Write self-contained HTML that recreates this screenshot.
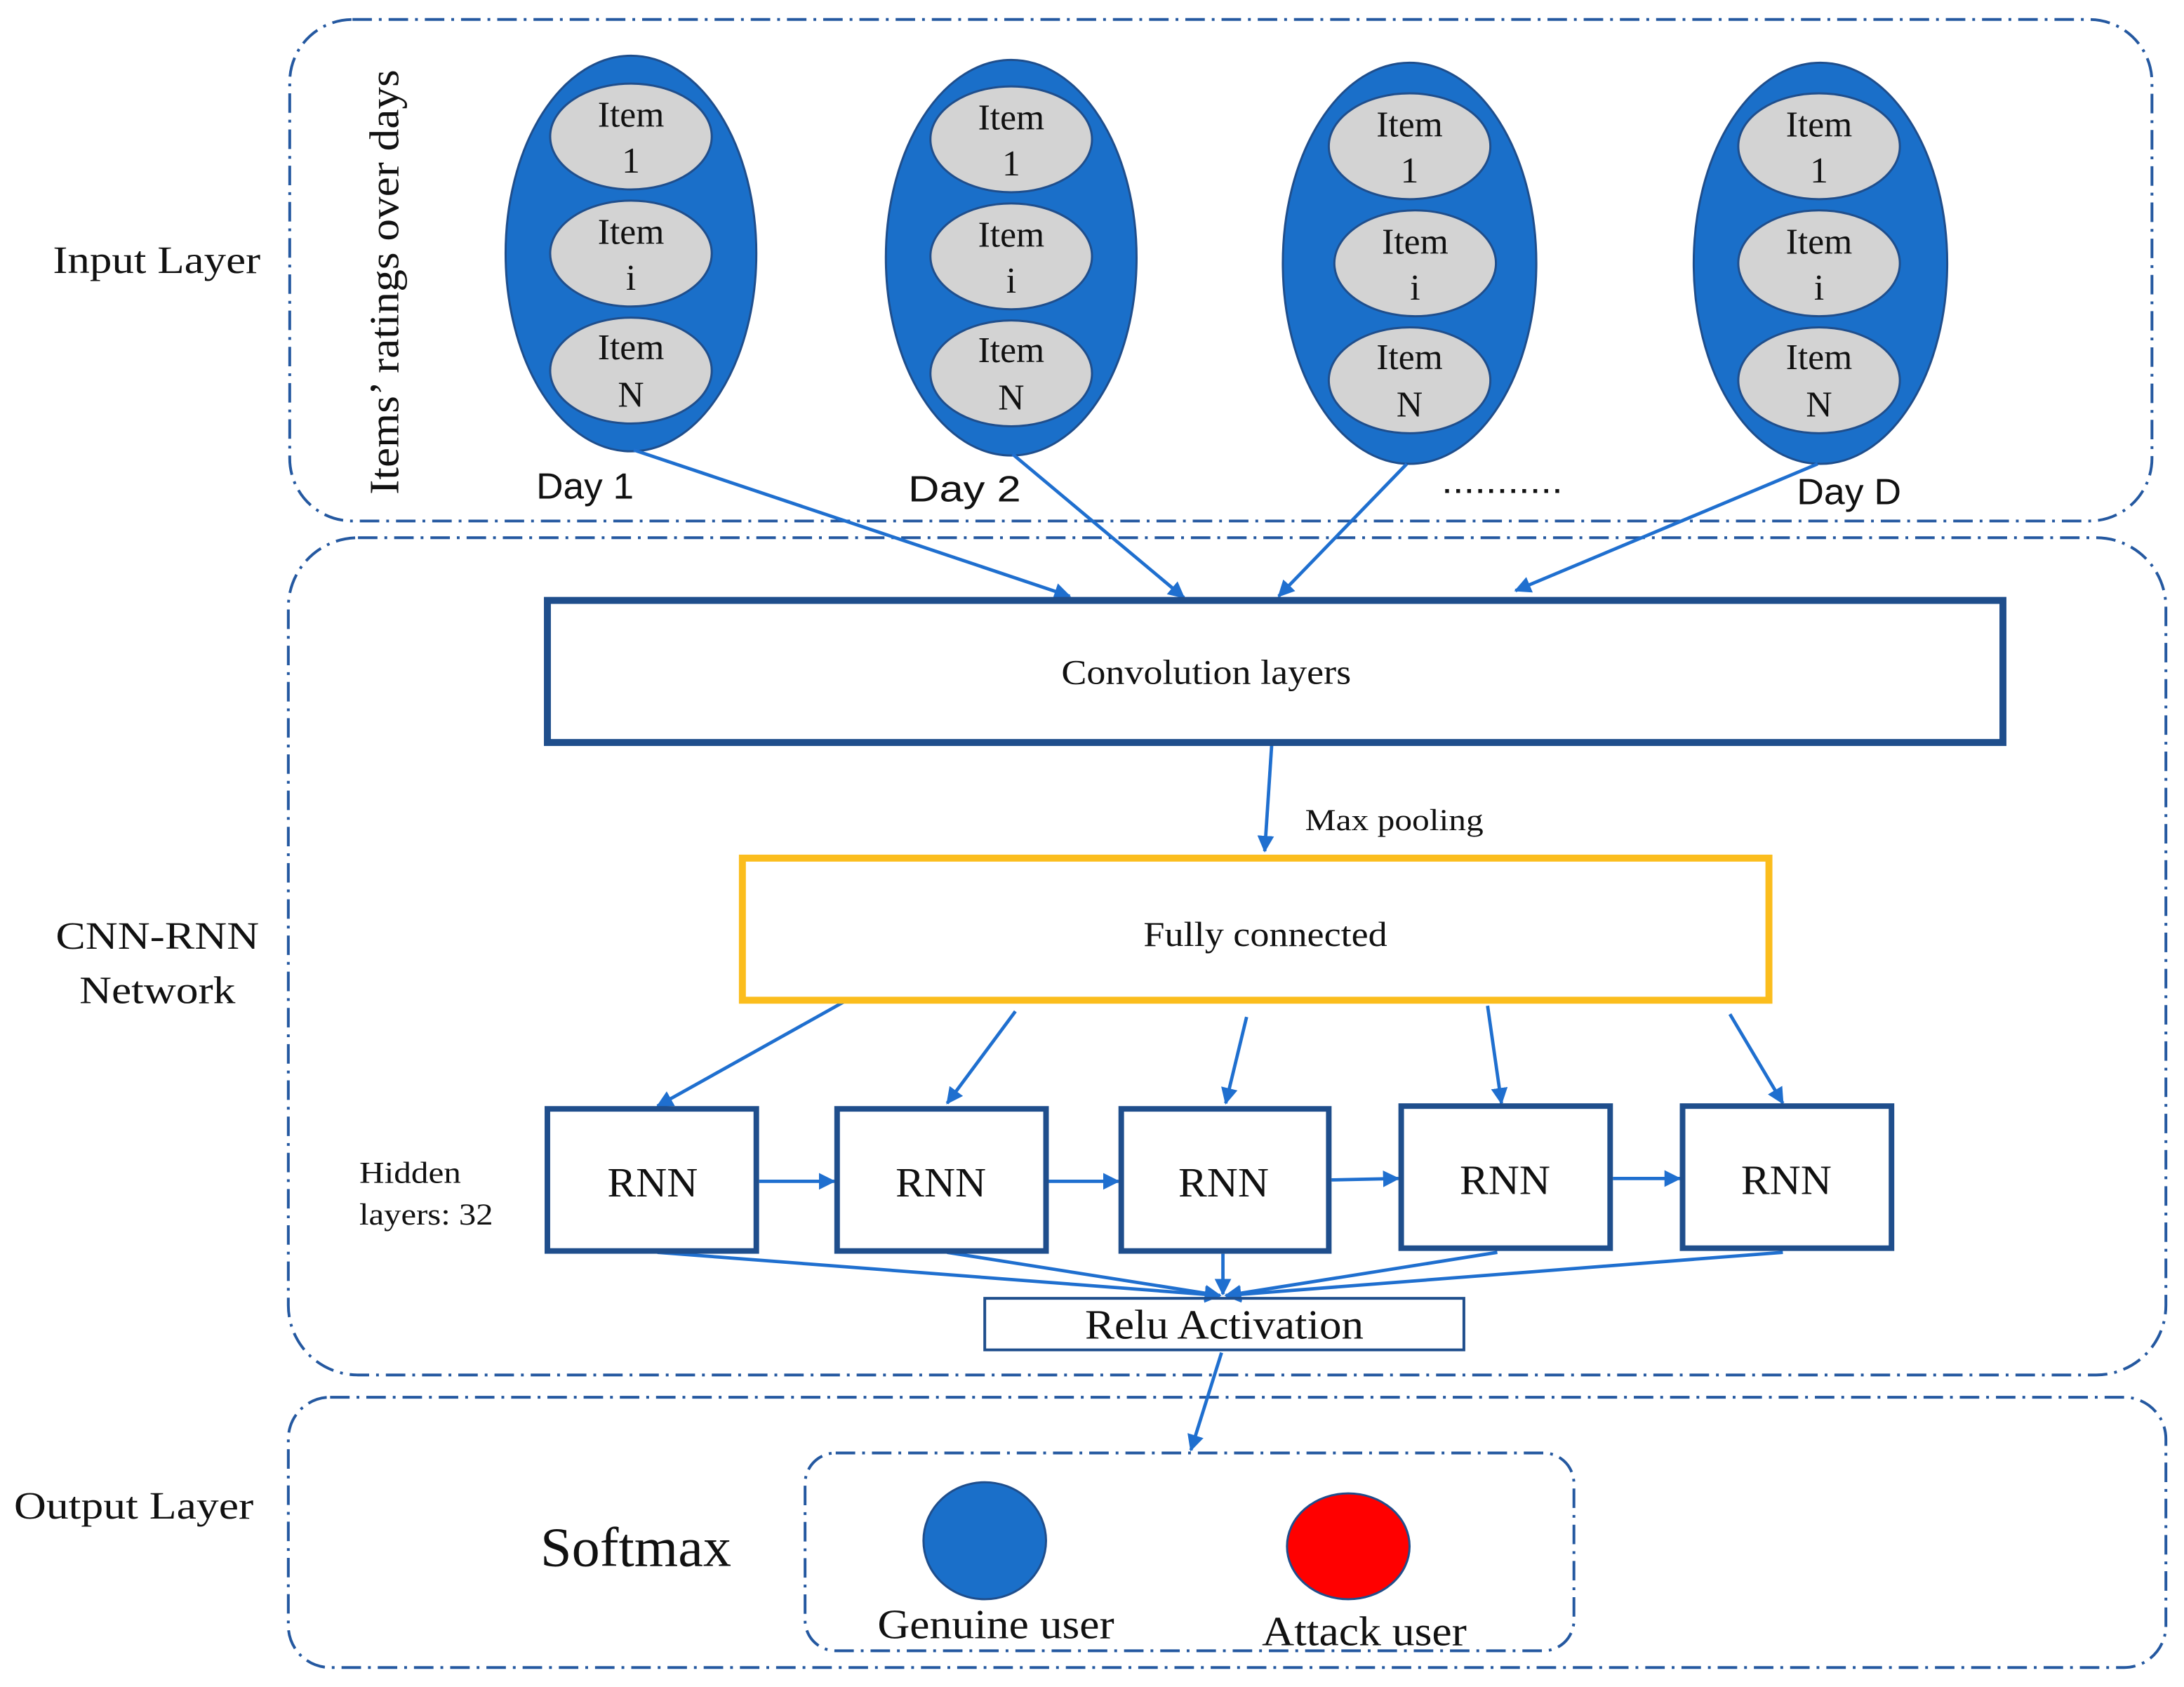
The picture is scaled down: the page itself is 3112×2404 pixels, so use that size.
<!DOCTYPE html>
<html><head><meta charset="utf-8"><style>html,body{margin:0;padding:0;background:#fff}svg{display:block}</style></head><body>
<svg width="3112" height="2404" viewBox="0 0 1568 1211" preserveAspectRatio="none" xmlns="http://www.w3.org/2000/svg">
<defs>
<marker id="a" markerWidth="12" markerHeight="12" refX="11" refY="6" orient="auto" markerUnits="userSpaceOnUse"><path d="M0,0 L12,6 L0,12 z" fill="#1f6fcf"/></marker>
</defs>
<g fill="none" stroke="#2458a0" stroke-width="2" stroke-dasharray="14,5,2,5">
<rect x="208" y="14" width="1337" height="360" rx="45"/>
<rect x="207" y="386" width="1348" height="601" rx="50"/>
<rect x="207" y="1003" width="1348" height="194" rx="30"/>
<rect x="578" y="1043" width="552" height="142" rx="22"/>
</g>
<g font-family="Liberation Serif, serif" fill="#111" lengthAdjust="spacingAndGlyphs">
<text x="38" y="196" font-size="28" textLength="149" lengthAdjust="spacingAndGlyphs">Input Layer</text>
<text x="40" y="681" font-size="28" textLength="146" lengthAdjust="spacingAndGlyphs">CNN-RNN</text>
<text x="57" y="720" font-size="28" textLength="112" lengthAdjust="spacingAndGlyphs">Network</text>
<text x="10" y="1090" font-size="28" textLength="172" lengthAdjust="spacingAndGlyphs">Output Layer</text>
<text transform="translate(286,355) rotate(-90)" font-size="30" textLength="305" lengthAdjust="spacingAndGlyphs">Items’ ratings over days</text>
</g>
<g stroke="#1f4e8c" stroke-width="1.5">
<ellipse cx="453" cy="182" rx="90" ry="142" fill="#1a6fc9"/>
<ellipse cx="726" cy="185" rx="90" ry="142" fill="#1a6fc9"/>
<ellipse cx="1012" cy="189" rx="91" ry="144" fill="#1a6fc9"/>
<ellipse cx="1307" cy="189" rx="91" ry="144" fill="#1a6fc9"/>
<g fill="#d3d3d3">
<ellipse cx="453" cy="98" rx="58" ry="38"/><ellipse cx="453" cy="182" rx="58" ry="38"/><ellipse cx="453" cy="266" rx="58" ry="38"/>
<ellipse cx="726" cy="100" rx="58" ry="38"/><ellipse cx="726" cy="184" rx="58" ry="38"/><ellipse cx="726" cy="268" rx="58" ry="38"/>
<ellipse cx="1012" cy="105" rx="58" ry="38"/><ellipse cx="1016" cy="189" rx="58" ry="38"/><ellipse cx="1012" cy="273" rx="58" ry="38"/>
<ellipse cx="1306" cy="105" rx="58" ry="38"/><ellipse cx="1306" cy="189" rx="58" ry="38"/><ellipse cx="1306" cy="273" rx="58" ry="38"/>
</g></g>
<g font-family="Liberation Serif, serif" font-size="26" fill="#111" text-anchor="middle">
<text x="453" y="91">Item</text><text x="453" y="124">1</text><text x="453" y="175">Item</text><text x="453" y="208">i</text><text x="453" y="258">Item</text><text x="453" y="292">N</text>
<text x="726" y="93">Item</text><text x="726" y="126">1</text><text x="726" y="177">Item</text><text x="726" y="210">i</text><text x="726" y="260">Item</text><text x="726" y="294">N</text>
<text x="1012" y="98">Item</text><text x="1012" y="131">1</text><text x="1016" y="182">Item</text><text x="1016" y="215">i</text><text x="1012" y="265">Item</text><text x="1012" y="299">N</text>
<text x="1306" y="98">Item</text><text x="1306" y="131">1</text><text x="1306" y="182">Item</text><text x="1306" y="215">i</text><text x="1306" y="265">Item</text><text x="1306" y="299">N</text>
</g>
<g font-family="Liberation Sans, sans-serif" font-size="26" fill="#111">
<text x="385" y="358" textLength="70" lengthAdjust="spacingAndGlyphs">Day 1</text>
<text x="652" y="360" textLength="81" lengthAdjust="spacingAndGlyphs">Day  2</text>
<text x="1035" y="354" textLength="87" lengthAdjust="spacingAndGlyphs">...........</text>
<text x="1290" y="362" textLength="75" lengthAdjust="spacingAndGlyphs">Day D</text>
</g>
<g stroke="#1f6fcf" stroke-width="2.4" fill="none" marker-end="url(#a)">
<line x1="455" y1="323" x2="768" y2="428"/><line x1="727" y1="326" x2="850" y2="429"/>
<line x1="1010" y1="333" x2="918" y2="428"/><line x1="1305" y1="333" x2="1088" y2="424"/>
<line x1="913" y1="535" x2="908" y2="611"/>
<line x1="608" y1="718" x2="472" y2="794"/><line x1="729" y1="726" x2="680" y2="792"/>
<line x1="895" y1="730" x2="880" y2="792"/><line x1="1068" y1="722" x2="1078" y2="792"/>
<line x1="1242" y1="728" x2="1280" y2="792"/>
<line x1="545" y1="848" x2="599" y2="848"/><line x1="753" y1="848" x2="803" y2="848"/>
<line x1="956" y1="847" x2="1004" y2="846"/><line x1="1158" y1="846" x2="1206" y2="846"/>
<line x1="472" y1="899" x2="876" y2="930"/><line x1="680" y1="899" x2="876" y2="930"/>
<line x1="878" y1="900" x2="878" y2="929"/><line x1="1075" y1="899" x2="880" y2="930"/>
<line x1="1280" y1="899" x2="880" y2="930"/>
<line x1="877" y1="971" x2="855" y2="1041"/>
</g>
<rect x="393" y="431" width="1045" height="102" fill="none" stroke="#1f4e8c" stroke-width="5"/>
<rect x="533" y="616" width="737" height="102" fill="none" stroke="#fbbd1d" stroke-width="5"/>
<g fill="none" stroke="#1f4e8c" stroke-width="4">
<rect x="393" y="796" width="150" height="102"/><rect x="601" y="796" width="150" height="102"/>
<rect x="805" y="796" width="149" height="102"/><rect x="1006" y="794" width="150" height="102"/>
<rect x="1208" y="794" width="150" height="102"/>
</g>
<rect x="707" y="932" width="344" height="37" fill="none" stroke="#1f4e8c" stroke-width="2"/>
<g font-family="Liberation Serif, serif" fill="#111">
<text x="762" y="491" font-size="25" textLength="208" lengthAdjust="spacingAndGlyphs">Convolution layers</text>
<text x="821" y="679" font-size="25" textLength="175" lengthAdjust="spacingAndGlyphs">Fully connected</text>
<text x="436" y="859" font-size="30" textLength="65" lengthAdjust="spacingAndGlyphs">RNN</text>
<text x="643" y="859" font-size="30" textLength="65" lengthAdjust="spacingAndGlyphs">RNN</text>
<text x="846" y="859" font-size="30" textLength="65" lengthAdjust="spacingAndGlyphs">RNN</text>
<text x="1048" y="857" font-size="30" textLength="65" lengthAdjust="spacingAndGlyphs">RNN</text>
<text x="1250" y="857" font-size="30" textLength="65" lengthAdjust="spacingAndGlyphs">RNN</text>
<text x="779" y="961" font-size="30" textLength="200" lengthAdjust="spacingAndGlyphs">Relu Activation</text>
<text x="937" y="596" font-size="22" textLength="128" lengthAdjust="spacingAndGlyphs">Max pooling</text>
<text x="258" y="849" font-size="22" textLength="73" lengthAdjust="spacingAndGlyphs">Hidden</text>
<text x="258" y="879" font-size="22" textLength="96" lengthAdjust="spacingAndGlyphs">layers: 32</text>
<text x="388" y="1124" font-size="40" textLength="137" lengthAdjust="spacingAndGlyphs">Softmax</text>
<text x="630" y="1176" font-size="30" textLength="170" lengthAdjust="spacingAndGlyphs">Genuine user</text>
<text x="906" y="1181" font-size="30" textLength="147" lengthAdjust="spacingAndGlyphs">Attack user</text>
</g>
<ellipse cx="707" cy="1106" rx="44" ry="42" fill="#1a6fc9" stroke="#1f4e8c" stroke-width="1.5"/>
<ellipse cx="968" cy="1110" rx="44" ry="38" fill="#ff0000" stroke="#1f4e8c" stroke-width="1.5"/>
</svg>
</body></html>
